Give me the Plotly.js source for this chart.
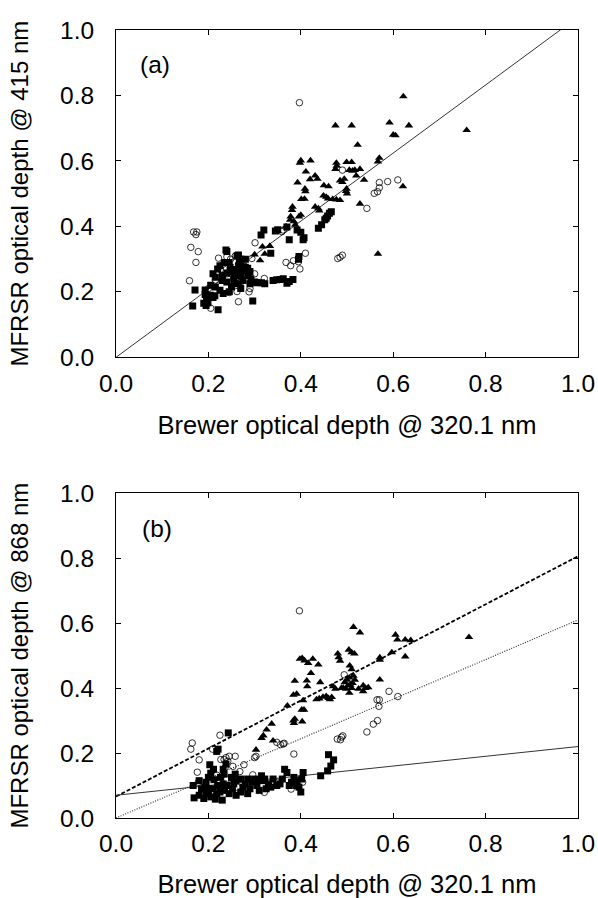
<!DOCTYPE html>
<html>
<head>
<meta charset="utf-8">
<script src="https://cdn.plot.ly/plotly-3.0.1.min.js"></script>
<style>html,body{margin:0;padding:0;background:#fff;}</style>
</head>
<body>
<div id="chart" style="width:598px;height:898px;"></div>
<script>
// ---------- Panel (a): 415 nm ----------
const aSquaresX = [0.320,0.314,0.345,0.350,0.370,0.392,0.400,0.375,0.405,0.407,0.438,0.445,0.452,0.458,0.462,0.466,0.455,0.335,0.395,0.396,0.240,0.262,0.267,0.280,0.290,0.285,0.225,0.235,0.247,0.220,0.210,0.215,0.230,0.240,0.250,0.255,0.262,0.270,0.275,0.280,0.285,0.292,0.300,0.230,0.240,0.255,0.265,0.275,0.290,0.305,0.315,0.322,0.340,0.348,0.355,0.362,0.375,0.383,0.370,0.171,0.166,0.193,0.193,0.196,0.190,0.195,0.199,0.204,0.210,0.214,0.221,0.296,0.225,0.232,0.245,0.205,0.215,0.250,0.270,0.245,0.265,0.270,0.258,0.238,0.265,0.276];
const aSquaresY = [0.389,0.374,0.386,0.390,0.398,0.389,0.382,0.359,0.359,0.365,0.394,0.405,0.420,0.432,0.440,0.445,0.425,0.318,0.300,0.308,0.323,0.310,0.293,0.300,0.262,0.272,0.280,0.290,0.275,0.270,0.255,0.245,0.250,0.258,0.262,0.245,0.250,0.255,0.265,0.275,0.250,0.240,0.230,0.235,0.230,0.235,0.225,0.235,0.225,0.228,0.228,0.225,0.235,0.237,0.238,0.240,0.232,0.238,0.226,0.206,0.157,0.206,0.192,0.185,0.165,0.158,0.167,0.190,0.183,0.188,0.145,0.172,0.205,0.195,0.200,0.220,0.215,0.215,0.210,0.290,0.280,0.270,0.268,0.328,0.313,0.277];

const aTrianglesX = [0.622,0.475,0.510,0.592,0.634,0.600,0.605,0.759,0.523,0.400,0.398,0.421,0.477,0.478,0.475,0.499,0.510,0.505,0.512,0.517,0.528,0.570,0.567,0.411,0.420,0.431,0.436,0.393,0.450,0.460,0.494,0.490,0.499,0.498,0.537,0.621,0.528,0.567,0.409,0.410,0.401,0.408,0.449,0.455,0.459,0.469,0.477,0.485,0.431,0.438,0.382,0.381,0.400,0.396,0.378,0.377,0.368,0.333,0.317,0.322,0.300,0.312,0.385,0.388,0.440,0.500,0.485,0.520];
const aTrianglesY = [0.797,0.708,0.708,0.717,0.708,0.680,0.678,0.694,0.649,0.601,0.594,0.601,0.594,0.585,0.575,0.596,0.596,0.572,0.570,0.572,0.575,0.609,0.598,0.567,0.544,0.555,0.545,0.534,0.525,0.522,0.545,0.535,0.515,0.508,0.542,0.522,0.469,0.316,0.515,0.507,0.483,0.484,0.494,0.490,0.485,0.483,0.482,0.480,0.460,0.455,0.460,0.450,0.435,0.430,0.430,0.420,0.400,0.340,0.338,0.316,0.314,0.296,0.415,0.405,0.448,0.500,0.540,0.555];

const aCirclesX = [0.397,0.490,0.570,0.570,0.566,0.559,0.588,0.610,0.543,0.168,0.175,0.173,0.162,0.178,0.173,0.159,0.480,0.485,0.490,0.368,0.378,0.384,0.395,0.410,0.398,0.301,0.359,0.362,0.222,0.240,0.248,0.258,0.226,0.265,0.205,0.245,0.262,0.288,0.290,0.321,0.294,0.250,0.262,0.275,0.270,0.285,0.215,0.200,0.232,0.240,0.300];
const aCirclesY = [0.778,0.572,0.534,0.518,0.506,0.501,0.537,0.542,0.455,0.383,0.383,0.375,0.336,0.323,0.290,0.234,0.302,0.306,0.312,0.290,0.280,0.295,0.292,0.318,0.270,0.350,0.384,0.389,0.303,0.307,0.300,0.309,0.269,0.170,0.150,0.198,0.201,0.200,0.210,0.241,0.302,0.255,0.245,0.300,0.230,0.240,0.236,0.210,0.285,0.255,0.255];

const aFitX = [0, 1];
const aFitY = [0, 1.04];

// ---------- Panel (b): 868 nm ----------
const bSquaresX = [0.243,0.221,0.218,0.203,0.211,0.205,0.238,0.232,0.234,0.226,0.232,0.250,0.258,0.195,0.192,0.185,0.169,0.167,0.180,0.190,0.200,0.205,0.210,0.218,0.225,0.235,0.245,0.252,0.260,0.270,0.275,0.280,0.285,0.290,0.295,0.300,0.305,0.310,0.315,0.322,0.330,0.335,0.340,0.348,0.355,0.360,0.365,0.370,0.375,0.380,0.385,0.392,0.396,0.400,0.402,0.405,0.460,0.471,0.465,0.458,0.443,0.270,0.255,0.240,0.220,0.212,0.200,0.260,0.285,0.315,0.325,0.390,0.180,0.195,0.215,0.230,0.200];
const bSquaresY = [0.262,0.212,0.205,0.164,0.150,0.138,0.166,0.150,0.135,0.125,0.105,0.125,0.135,0.110,0.095,0.090,0.062,0.100,0.070,0.060,0.080,0.065,0.090,0.075,0.080,0.085,0.075,0.090,0.070,0.080,0.095,0.105,0.075,0.090,0.110,0.120,0.100,0.085,0.115,0.120,0.105,0.095,0.120,0.100,0.105,0.120,0.150,0.140,0.100,0.110,0.125,0.115,0.095,0.080,0.120,0.140,0.195,0.179,0.160,0.145,0.130,0.120,0.105,0.100,0.100,0.118,0.125,0.115,0.120,0.130,0.090,0.100,0.115,0.075,0.058,0.055,0.090];

const bTrianglesX = [0.514,0.528,0.764,0.605,0.609,0.626,0.638,0.626,0.597,0.571,0.571,0.571,0.480,0.482,0.485,0.504,0.510,0.516,0.506,0.510,0.398,0.403,0.408,0.426,0.416,0.422,0.438,0.442,0.413,0.414,0.387,0.384,0.391,0.405,0.371,0.402,0.407,0.384,0.385,0.387,0.403,0.337,0.326,0.319,0.315,0.340,0.303,0.434,0.440,0.448,0.455,0.460,0.467,0.463,0.470,0.475,0.488,0.492,0.498,0.502,0.507,0.512,0.517,0.514,0.505,0.510,0.525,0.535,0.540,0.546,0.535,0.505,0.500,0.495];
const bTrianglesY = [0.588,0.571,0.557,0.564,0.549,0.549,0.547,0.497,0.510,0.487,0.494,0.426,0.506,0.495,0.484,0.518,0.510,0.506,0.469,0.458,0.490,0.492,0.485,0.490,0.477,0.446,0.472,0.418,0.423,0.405,0.422,0.379,0.382,0.362,0.346,0.333,0.333,0.300,0.292,0.305,0.297,0.290,0.272,0.254,0.246,0.238,0.210,0.365,0.368,0.373,0.375,0.369,0.372,0.365,0.405,0.398,0.400,0.400,0.398,0.408,0.410,0.415,0.425,0.438,0.432,0.400,0.398,0.408,0.400,0.402,0.390,0.385,0.425,0.418];

const bCirclesX = [0.397,0.494,0.591,0.610,0.565,0.570,0.569,0.557,0.566,0.543,0.479,0.488,0.491,0.486,0.348,0.356,0.364,0.362,0.385,0.165,0.162,0.180,0.225,0.176,0.178,0.234,0.238,0.242,0.245,0.258,0.236,0.268,0.277,0.296,0.303,0.300,0.321,0.379,0.404,0.227,0.209,0.218,0.253,0.240,0.350,0.262];
const bCirclesY = [0.638,0.441,0.390,0.374,0.364,0.364,0.344,0.289,0.300,0.265,0.243,0.249,0.253,0.241,0.233,0.226,0.230,0.228,0.197,0.231,0.212,0.179,0.255,0.141,0.110,0.180,0.186,0.175,0.190,0.190,0.155,0.143,0.164,0.133,0.190,0.186,0.079,0.089,0.110,0.180,0.212,0.132,0.159,0.120,0.110,0.095];

const bFitX = [0, 1];
const bDashedY = [0.066, 0.806];
const bDottedY = [0, 0.61];
const bSolidY = [0.070, 0.220];

const xTickVals = [0, 0.2, 0.4, 0.6, 0.8, 1.0];
const xTickText = ['0.0','0.2','0.4','0.6','0.8','1.0'];
const yTickVals = xTickVals;
const yTickText = xTickText;

const FONT = 'Liberation Sans, Arial, Helvetica, sans-serif';

const sq = {symbol:'square', size:7, color:'#000'};
const tri = {symbol:'triangle-up', size:7.5, color:'#000'};
const circ = {symbol:'circle-open', size:6.5, color:'#000', line:{width:0.8, color:'#000'}};

const traces = [
  {x:aFitX, y:aFitY, xaxis:'x', yaxis:'y', mode:'lines', line:{color:'#333', width:1}},
  {x:aCirclesX, y:aCirclesY, xaxis:'x', yaxis:'y', mode:'markers', marker:circ},
  {x:aSquaresX, y:aSquaresY, xaxis:'x', yaxis:'y', mode:'markers', marker:sq},
  {x:aTrianglesX, y:aTrianglesY, xaxis:'x', yaxis:'y', mode:'markers', marker:tri},

  {x:bFitX, y:bDashedY, xaxis:'x2', yaxis:'y2', mode:'lines', line:{color:'#000', width:1.8, dash:'4px,2px'}},
  {x:bFitX, y:bDottedY, xaxis:'x2', yaxis:'y2', mode:'lines', line:{color:'#222', width:1.1, dash:'1px,1.5px'}},
  {x:bFitX, y:bSolidY, xaxis:'x2', yaxis:'y2', mode:'lines', line:{color:'#333', width:1}},
  {x:bCirclesX, y:bCirclesY, xaxis:'x2', yaxis:'y2', mode:'markers', marker:circ},
  {x:bSquaresX, y:bSquaresY, xaxis:'x2', yaxis:'y2', mode:'markers', marker:sq},
  {x:bTrianglesX, y:bTrianglesY, xaxis:'x2', yaxis:'y2', mode:'markers', marker:tri}
];

function xAxis(anchor){
  return {
    anchor: anchor, domain:[0,1], range:[0,1], tickvals:xTickVals, ticktext:xTickText,
    ticks:'inside', ticklen:5, tickwidth:1, tickcolor:'#000',
    showline:true, linecolor:'#000', linewidth:1, mirror:'ticks',
    showgrid:false, zeroline:false, ticklabelstandoff:4,
    tickfont:{family:FONT, size:24.5, color:'#000'},
    title:{text:'Brewer optical depth @ 320.1 nm', font:{family:FONT, size:25.5, color:'#000'}, standoff:20},
    automargin:false, fixedrange:true
  };
}
function yAxis(anchor, domain, label){
  return {
    anchor: anchor, domain:domain, range:[0,1], tickvals:yTickVals, ticktext:yTickText,
    ticks:'inside', ticklen:5, tickwidth:1, tickcolor:'#000',
    showline:true, linecolor:'#000', linewidth:1, mirror:'ticks',
    showgrid:false, zeroline:false, ticklabelstandoff:16,
    tickfont:{family:FONT, size:24.5, color:'#000'},
    title:{text:label, font:{family:FONT, size:24, color:'#000'}, standoff:24},
    automargin:false, fixedrange:true
  };
}

const layout = {
  width:598, height:898,
  margin:{l:116, r:20, t:30, b:80},
  paper_bgcolor:'#fff', plot_bgcolor:'#fff',
  showlegend:false,
  xaxis: xAxis('y'),
  yaxis: yAxis('x', [0.5846, 1], 'MFRSR optical depth @ 415 nm'),
  xaxis2: xAxis('y2'),
  yaxis2: yAxis('x2', [0, 0.4121], 'MFRSR optical depth @ 868 nm'),
  annotations:[
    {text:'(a)', xref:'x domain', yref:'y domain', x:0.085, y:0.895, showarrow:false,
     xanchor:'center', yanchor:'middle', font:{family:FONT, size:24.5, color:'#000'}},
    {text:'(b)', xref:'x2 domain', yref:'y2 domain', x:0.088, y:0.89, showarrow:false,
     xanchor:'center', yanchor:'middle', font:{family:FONT, size:24.5, color:'#000'}}
  ]
};

Plotly.newPlot('chart', traces, layout, {displayModeBar:false, staticPlot:true});
</script>
</body>
</html>
